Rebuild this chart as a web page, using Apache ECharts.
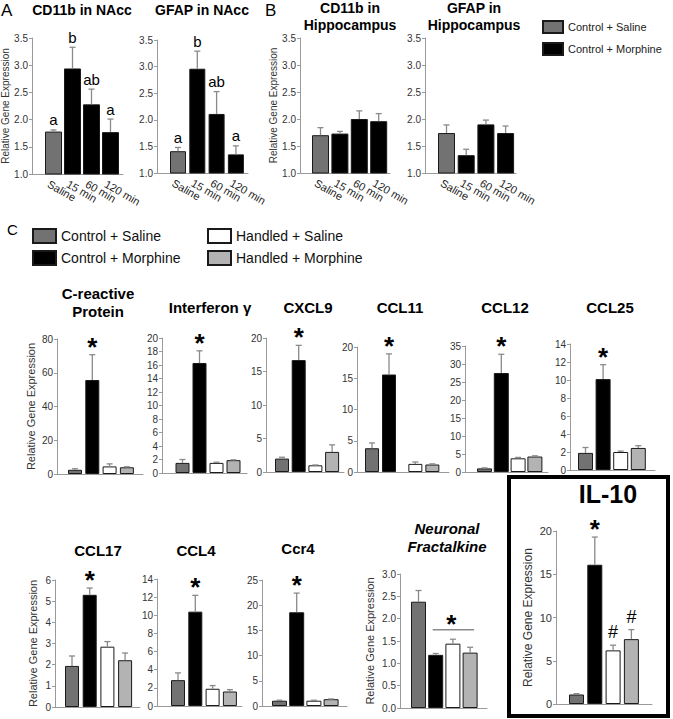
<!DOCTYPE html>
<html><head><meta charset="utf-8">
<script src="https://cdn.jsdelivr.net/npm/echarts@6/dist/echarts.min.js"></script>
<style>html,body{margin:0;padding:0;background:#fff}#chart{width:673px;height:719px}</style>
</head><body><div id="chart"></div>
<script>
// ---------------- DATA ----------------
const timeCategories = ['Saline', '15 min', '60 min', '120 min'];
const timeGroups = ['Control + Saline', 'Control + Morphine', 'Control + Morphine', 'Control + Morphine'];
const treatmentGroups = ['Control + Saline', 'Control + Morphine', 'Handled + Saline', 'Handled + Morphine'];

const ticksAB = [1.0, 1.5, 2.0, 2.5, 3.0, 3.5];
const ticksCRP = [0, 20, 40, 60, 80];
const ticks20by2 = [0, 2, 4, 6, 8, 10, 12, 14, 16, 18, 20];
const ticks20by5 = [0, 5, 10, 15, 20];
const ticksCCL12 = [0, 5, 10, 15, 20, 25, 30, 35];
const ticks14by2 = [0, 2, 4, 6, 8, 10, 12, 14];
const ticksCCL17 = [0, 1, 2, 3, 4, 5, 6];
const ticksCcr4 = [0, 5, 10, 15, 20, 25];
const ticksFract = [0, 0.5, 1.0, 1.5, 2.0, 2.5, 3.0];

const cd11bNAccMean = [1.78, 2.94, 2.28, 1.77];
const cd11bNAccSem  = [0.03, 0.39, 0.28, 0.24];
const cd11bNAccSig  = ['a', 'b', 'ab', 'a'];
const gfapNAccMean  = [1.41, 2.96, 2.11, 1.35];
const gfapNAccSem   = [0.07, 0.33, 0.42, 0.16];
const gfapNAccSig   = ['a', 'b', 'ab', 'a'];
const cd11bHipMean  = [1.70, 1.73, 2.00, 1.96];
const cd11bHipSem   = [0.14, 0.04, 0.15, 0.14];
const gfapHipMean   = [1.74, 1.33, 1.90, 1.74];
const gfapHipSem    = [0.15, 0.11, 0.08, 0.13];

const crpMean   = [2.5, 55.7, 4.5, 4.0];   const crpSem   = [0.6, 15.0, 1.5, 0.3];
const ifngMean  = [1.5, 16.3, 1.5, 1.9];   const ifngSem  = [0.5, 1.8, 0.1, 0.05];
const cxcl9Mean = [2.0, 16.7, 1.0, 3.0];   const cxcl9Sem = [0.2, 2.2, 0.05, 1.05];
const ccl11Mean = [3.8, 15.6, 1.3, 1.2];   const ccl11Sem = [0.85, 3.3, 0.3, 0.1];
const ccl12Mean = [1.0, 27.5, 3.8, 4.3];   const ccl12Sem = [0.15, 5.2, 0.25, 0.2];
const ccl25Mean = [1.9, 10.1, 2.0, 2.45];  const ccl25Sem = [0.6, 1.6, 0.1, 0.25];
const ccl17Mean = [1.94, 5.3, 2.85, 2.21]; const ccl17Sem = [0.47, 0.32, 0.24, 0.34];
const ccl4Mean  = [2.85, 10.4, 1.9, 1.6];  const ccl4Sem  = [0.8, 1.8, 0.35, 0.2];
const ccr4Mean  = [1.05, 18.6, 1.05, 1.35];const ccr4Sem  = [0.1, 3.8, 0.1, 0.05];
const fractMean = [2.38, 1.19, 1.44, 1.24];const fractSem = [0.25, 0.03, 0.10, 0.12];
const il10Mean  = [1.1, 16.1, 6.2, 7.5];   const il10Sem  = [0.1, 3.2, 0.6, 1.1];

const starSig = ['', '*', '', ''];
const il10Sig = ['', '*', '#', '#'];
const fractalkineSigBars = [1, 3];
const fractalkineSigLevel = 1.75;

// ---------------- STYLE / LAYOUT ----------------
const FONT = '"Liberation Sans", Arial, Helvetica, sans-serif';
const AXIS = '#9a9a9a';
const ERR = '#8a8a8a';
const groupColor = {
  'Control + Saline': '#727272',
  'Control + Morphine': '#000000',
  'Handled + Saline': '#ffffff',
  'Handled + Morphine': '#b3b3b3'
};

const panels = [
  {title:['CD11b in NAcc'], cats:timeCategories, groups:timeGroups, mean:cd11bNAccMean, sem:cd11bNAccSem, sig:cd11bNAccSig, ticks:ticksAB, dec:1, yName:true,
   L:{axisX:32, top:38, bottom:174, right:123, c0:53.5, step:19, barW:17, nameGap:21, nameFont:10, tickFont:10, tx:82, ty:10, tf:'bold 14px', lh:14}},
  {title:['GFAP in NAcc'], cats:timeCategories, groups:timeGroups, mean:gfapNAccMean, sem:gfapNAccSem, sig:gfapNAccSig, ticks:ticksAB, dec:1,
   L:{axisX:157, top:40, bottom:173, right:248, c0:178, step:19.3, barW:16, tickFont:10, tx:202, ty:10, tf:'bold 14px', lh:14}},
  {title:['CD11b in', 'Hippocampus'], cats:timeCategories, groups:timeGroups, mean:cd11bHipMean, sem:cd11bHipSem, ticks:ticksAB, dec:1, yName:true,
   L:{axisX:300, top:38, bottom:173, right:390, c0:320.5, step:19.4, barW:17, nameGap:22, nameFont:10, tickFont:10, tx:350, ty:8, tf:'bold 14px', lh:17}},
  {title:['GFAP in', 'Hippocampus'], cats:timeCategories, groups:timeGroups, mean:gfapHipMean, sem:gfapHipSem, ticks:ticksAB, dec:1,
   L:{axisX:425, top:38, bottom:173, right:516, c0:446.5, step:19.7, barW:17, tickFont:10, tx:474, ty:8, tf:'bold 14px', lh:17}},

  {title:['C-reactive', 'Protein'], groups:treatmentGroups, mean:crpMean, sem:crpSem, sig:starSig, ticks:ticksCRP, yName:true,
   L:{axisX:57, top:339, bottom:474, right:143, c0:75, step:17.3, barW:14, nameGap:21, nameFont:11, tickFont:10, tx:98, ty:293, tf:'bold 15px', lh:18}},
  {title:['Interferon γ'], groups:treatmentGroups, mean:ifngMean, sem:ifngSem, sig:starSig, ticks:ticks20by2,
   L:{axisX:162, top:338, bottom:473, right:247, c0:182.5, step:17, barW:14, tickFont:10, tx:210, ty:307, tf:'bold 15px', lh:17}},
  {title:['CXCL9'], groups:treatmentGroups, mean:cxcl9Mean, sem:cxcl9Sem, sig:starSig, ticks:ticks20by5,
   L:{axisX:266, top:338, bottom:472, right:344, c0:282, step:16.7, barW:14, tickFont:10, tx:308, ty:307, tf:'bold 15px', lh:17}},
  {title:['CCL11'], groups:treatmentGroups, mean:ccl11Mean, sem:ccl11Sem, sig:starSig, ticks:ticks20by5,
   L:{axisX:357, top:347, bottom:472, right:449, c0:372, step:17, pos:[0, 1, 2.55, 3.55], barW:14, tickFont:10, tx:400, ty:307, tf:'bold 15px', lh:17}},
  {title:['CCL12'], groups:treatmentGroups, mean:ccl12Mean, sem:ccl12Sem, sig:starSig, ticks:ticksCCL12,
   L:{axisX:465, top:346, bottom:472, right:548, c0:484.5, step:16.8, barW:15, tickFont:10, tx:505, ty:307, tf:'bold 15px', lh:17}},
  {title:['CCL25'], groups:treatmentGroups, mean:ccl25Mean, sem:ccl25Sem, sig:starSig, ticks:ticks14by2,
   L:{axisX:570, top:344, bottom:470, right:655, c0:585.5, step:17.6, barW:15, tickFont:10, tx:610, ty:307, tf:'bold 15px', lh:17}},

  {title:['CCL17'], groups:treatmentGroups, mean:ccl17Mean, sem:ccl17Sem, sig:starSig, ticks:ticksCCL17, yName:true,
   L:{axisX:55, top:580, bottom:707, right:140, c0:72, step:17.7, barW:14, nameGap:17, nameFont:11, tickFont:10, tx:98, ty:550, tf:'bold 15px', lh:17}},
  {title:['CCL4'], groups:treatmentGroups, mean:ccl4Mean, sem:ccl4Sem, sig:starSig, ticks:ticks14by2,
   L:{axisX:157, top:579, bottom:706, right:242, c0:178, step:17.3, barW:14, tickFont:10, tx:196, ty:550, tf:'bold 15px', lh:17}},
  {title:['Ccr4'], groups:treatmentGroups, mean:ccr4Mean, sem:ccr4Sem, sig:starSig, ticks:ticksCcr4,
   L:{axisX:262, top:580, bottom:706, right:347, c0:279.5, step:17.2, barW:15, tickFont:10, tx:298, ty:548, tf:'bold 15px', lh:17}},
  {title:['Neuronal', 'Fractalkine'], groups:treatmentGroups, mean:fractMean, sem:fractSem, ticks:ticksFract, dec:1, yName:true,
   bracket:{bars:fractalkineSigBars, level:fractalkineSigLevel, mark:'*'},
   L:{axisX:400, top:574, bottom:708, right:487, c0:418.5, step:17.2, barW:15, nameGap:25, nameFont:11, tickFont:10, tx:447, ty:528, tf:'italic bold 15px', lh:18}},
  {title:['IL-10'], groups:treatmentGroups, mean:il10Mean, sem:il10Sem, sig:il10Sig, ticks:ticks20by5, yName:true,
   L:{axisX:556, top:531, bottom:704, right:652, c0:576.5, step:18.3, barW:15, nameGap:22, nameFont:12, tickFont:11, tx:608, ty:494, tf:'bold 25px', lh:26}}
];

function sigStyle(s) {
  if (s === '*') return {font: 'bold 26px ' + FONT, dy: -8};
  if (s === '#') return {font: '18px ' + FONT, dy: -13};
  return {font: '15px ' + FONT, dy: -10};
}

function makeRender(p) {
  const pos = p.L.pos || [0, 1, 2, 3];
  return function (params, api) {
    const i = params.dataIndex;
    const x = api.value(0), m = api.value(1), e = api.value(2);
    const base = api.coord([x, m]);
    const top = api.coord([x, m + e]);
    const kids = [];
    kids.push({type: 'line', shape: {x1: base[0], y1: base[1], x2: top[0], y2: top[1]}, style: {stroke: ERR, lineWidth: 1.3}});
    kids.push({type: 'line', shape: {x1: top[0] - 3, y1: top[1], x2: top[0] + 3, y2: top[1]}, style: {stroke: ERR, lineWidth: 1.3}});
    const s = p.sig && p.sig[i];
    if (s) {
      const st = sigStyle(s);
      kids.push({type: 'text', x: top[0], y: top[1] + st.dy,
        style: {text: s, font: st.font, fill: '#000', textAlign: 'center', textVerticalAlign: 'middle', align: 'center', verticalAlign: 'middle'}});
    }
    if (p.cats) {
      const y0 = api.coord([x, p.ticks[0]])[1];
      kids.push({type: 'text', x: base[0] - 5, y: y0 + 9, rotation: -Math.PI / 6,
        style: {text: p.cats[i], font: '11px ' + FONT, fill: '#222', textAlign: 'left', textVerticalAlign: 'middle', align: 'left', verticalAlign: 'middle'}});
    }
    if (p.bracket && i === 0) {
      const b = p.bracket;
      const a = api.coord([pos[b.bars[0]], b.level]);
      const c = api.coord([pos[b.bars[1]], b.level]);
      const x1 = a[0] - 3, x2 = c[0] + 4;
      kids.push({type: 'line', shape: {x1: x1, y1: a[1], x2: x2, y2: a[1]}, style: {stroke: ERR, lineWidth: 1.5}});
      const st = sigStyle(b.mark);
      kids.push({type: 'text', x: (x1 + x2) / 2 - 2, y: a[1] - 12 + 6,
        style: {text: b.mark, font: st.font, fill: '#000', textAlign: 'center', textVerticalAlign: 'middle', align: 'center', verticalAlign: 'middle'}});
    }
    return {type: 'group', children: kids};
  };
}

const option = {
  animation: false,
  textStyle: {fontFamily: FONT},
  grid: [], xAxis: [], yAxis: [], series: [],
  legend: [
    {data: ['Control + Saline', 'Control + Morphine'], orient: 'vertical', left: 542, top: 20, padding: 0,
     itemWidth: 20, itemHeight: 12, itemGap: 8, icon: 'rect', selectedMode: false,
     textStyle: {fontSize: 11, color: '#222', fontFamily: FONT}},
    {data: ['Control + Saline', 'Control + Morphine'], orient: 'vertical', left: 32, top: 228, padding: 0,
     itemWidth: 23, itemHeight: 14, itemGap: 6, icon: 'rect', selectedMode: false,
     textStyle: {fontSize: 14, color: '#111', fontFamily: FONT}},
    {data: ['Handled + Saline', 'Handled + Morphine'], orient: 'vertical', left: 207, top: 228, padding: 0,
     itemWidth: 23, itemHeight: 14, itemGap: 6, icon: 'rect', selectedMode: false,
     textStyle: {fontSize: 14, color: '#111', fontFamily: FONT}}
  ],
  graphic: []
};

function txt(text, x, y, font, align, lh) {
  const st = {text: text, font: font, fill: '#000', textAlign: align || 'left', textVerticalAlign: 'middle', align: align || 'left', verticalAlign: 'middle'};
  if (lh) st.lineHeight = lh;
  return {type: 'text', x: x, y: y, silent: true, style: st};
}

option.graphic.push(txt('A', 1, 10, '17px ' + FONT));
option.graphic.push(txt('B', 265, 10, '17px ' + FONT));
option.graphic.push(txt('C', 7, 229, '15px ' + FONT));

panels.forEach(function (p, k) {
  const L = p.L;
  const pos = L.pos || [0, 1, 2, 3];
  const t = p.ticks;
  option.grid.push({left: L.axisX, top: L.top, width: L.right - L.axisX, height: L.bottom - L.top, containLabel: false, outerBoundsMode: 'none'});
  option.xAxis.push({gridIndex: k, type: 'value', min: -(L.c0 - L.axisX) / L.step, max: (L.right - L.c0) / L.step,
    axisLine: {show: true, onZero: false, lineStyle: {color: AXIS, width: 1}}, axisTick: {show: false}, axisLabel: {show: false}, splitLine: {show: false}});
  option.yAxis.push({gridIndex: k, type: 'value', min: t[0], max: t[t.length - 1], interval: t[1] - t[0],
    axisLine: {show: true, onZero: false, lineStyle: {color: AXIS, width: 1}},
    axisTick: {show: true, length: 3, lineStyle: {color: AXIS}},
    axisLabel: {fontSize: L.tickFont, color: '#333', margin: 4, fontFamily: FONT,
      formatter: function (v) { return p.dec ? v.toFixed(p.dec) : String(v); }},
    splitLine: {show: false},
    name: p.yName ? 'Relative Gene Expression' : '', nameLocation: 'middle', nameGap: L.nameGap || 20,
    nameTextStyle: {fontSize: L.nameFont || 10, color: '#333', fontFamily: FONT}});
  const uniq = [];
  p.groups.forEach(function (g) { if (uniq.indexOf(g) < 0) uniq.push(g); });
  uniq.forEach(function (g) {
    const data = [];
    p.groups.forEach(function (gg, i) { if (gg === g) data.push([pos[i], p.mean[i]]); });
    option.series.push({type: 'bar', name: g, xAxisIndex: k, yAxisIndex: k, data: data, barWidth: L.barW, barGap: '-100%',
      itemStyle: {color: groupColor[g], borderColor: '#1a1a1a', borderWidth: 1}, clip: true, z: 2, silent: true});
  });
  option.series.push({type: 'custom', xAxisIndex: k, yAxisIndex: k, clip: false, z: 3, silent: true,
    encode: {x: 0, y: 1},
    data: p.mean.map(function (m, i) { return [pos[i], m, p.sem[i]]; }),
    renderItem: makeRender(p)});
  const n = p.title.length;
  option.graphic.push(txt(p.title.join('\n'), L.tx, L.ty + (n - 1) * L.lh / 2, L.tf + ' ' + FONT, 'center', L.lh));
});

option.graphic.push({type: 'rect', silent: true, shape: {x: 509, y: 477, width: 159, height: 239},
  style: {fill: 'none', stroke: '#000', lineWidth: 4}});

const chart = echarts.init(document.getElementById('chart'), null, {renderer: 'svg'});
chart.setOption(option);
</script>
</body></html>
